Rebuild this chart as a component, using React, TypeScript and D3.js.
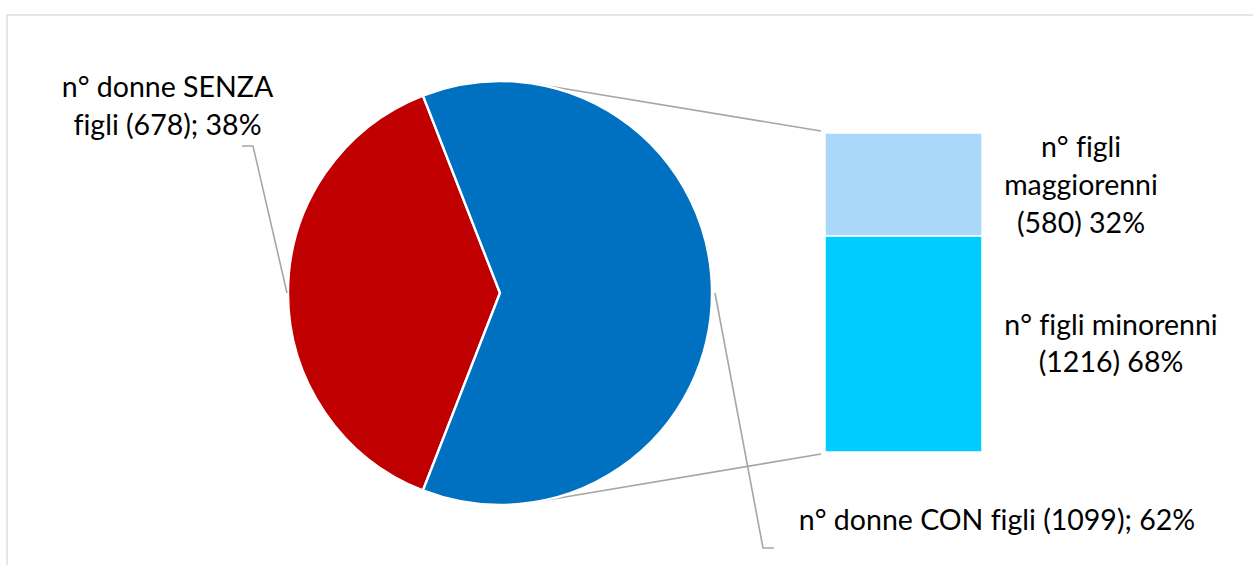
import React from "react";
import * as d3 from "d3";

const pieCategories = ["n° donne SENZA figli", "n° donne CON figli"];
const pieValues = [678, 1099];
const pieLabels = [["n° donne SENZA", "figli (678); 38%"], ["n° donne CON figli (1099); 62%"]];
const pieColors = ["#C00000", "#0070C0"];

const barCategories = ["n° figli maggiorenni", "n° figli minorenni"];
const barValues = [580, 1216];
const barLabels = [["n° figli", "maggiorenni", "(580) 32%"], ["n° figli minorenni", "(1216) 68%"]];
const barColors = ["#A9D8FB", "#00CCFF"];

const W = 1253;
const H = 565;
const FONT = "Lato, 'Noto Sans', sans-serif";
const FS = 28.5;
const LH = 38;

function tangentPoint(cx: number, cy: number, r: number, px: number, py: number, sign: number) {
  const dx = px - cx;
  const dy = py - cy;
  const d = Math.sqrt(dx * dx + dy * dy);
  const base = Math.atan2(dy, dx);
  const a = Math.acos(r / d);
  const ang = base + sign * a;
  return [cx + r * Math.cos(ang), cy + r * Math.sin(ang)];
}

export default function App() {
  const cx = 500;
  const cy = 293;
  const r = 212;

  const total = d3.sum(pieValues);
  const redFrac = pieValues[0] / total;
  const start = (3 * Math.PI) / 2 - redFrac * Math.PI;
  const pie = d3
    .pie<number>()
    .sort(null)
    .startAngle(start)
    .endAngle(start + 2 * Math.PI);
  const arcs = pie(pieValues);
  const arcGen = d3.arc<d3.PieArcDatum<number>>().innerRadius(0).outerRadius(r);

  const barTotal = d3.sum(barValues);
  const barX0 = 825;
  const barX1 = 982;
  const y = d3.scaleLinear().domain([0, barTotal]).range([133, 452]);
  const stackEnds = d3.cumsum(barValues);
  const segs = barValues.map((v, i) => ({
    y0: y(stackEnds[i] - v),
    y1: y(stackEnds[i]),
  }));

  const topEnd = [821, 131];
  const botEnd = [821, 454];
  const tTop = tangentPoint(cx, cy, r, topEnd[0], topEnd[1], -1);
  const tBot = tangentPoint(cx, cy, r, botEnd[0], botEnd[1], 1);

  const lineColor = "#A6A6A6";
  const textStyle: React.CSSProperties = { fontVariantLigatures: "none", fontFeatureSettings: '"liga" 0, "clig" 0' };

  return (
    <svg
      width={W}
      height={H}
      style={{ position: "absolute", left: 0, top: 0, background: "#fff" }}
      fontFamily={FONT}
    >
      <rect x={7} y={15} width={1300} height={600} fill="#fff" stroke="#D9D9D9" strokeWidth={1.3} />

      {/* connector lines */}
      <line x1={tTop[0]} y1={tTop[1]} x2={topEnd[0]} y2={topEnd[1]} stroke={lineColor} strokeWidth={1.6} />
      <line x1={tBot[0]} y1={tBot[1]} x2={botEnd[0]} y2={botEnd[1]} stroke={lineColor} strokeWidth={1.6} />

      {/* pie */}
      <g transform={`translate(${cx},${cy})`}>
        {arcs.map((a, i) => (
          <path key={pieCategories[i]} d={arcGen(a) || ""} fill={pieColors[i]} stroke="#fff" strokeWidth={2.4} strokeLinejoin="miter" />
        ))}
      </g>

      {/* bar */}
      {segs.map((s, i) => (
        <rect
          key={barCategories[i]}
          x={barX0}
          y={s.y0}
          width={barX1 - barX0}
          height={s.y1 - s.y0}
          fill={barColors[i]}
          stroke="#fff"
          strokeWidth={1.5}
        />
      ))}

      {/* leader lines */}
      <polyline points={`242,146 253,146 287,293`} fill="none" stroke={lineColor} strokeWidth={1.6} />
      <polyline points={`715,293 763,548 774,548`} fill="none" stroke={lineColor} strokeWidth={1.6} />

      {/* labels */}
      <text x={167.5} y={97} textAnchor="middle" fontSize={FS} fill="#000" style={textStyle}>
        {pieLabels[0].map((t, i) => (
          <tspan key={i} x={167.5} dy={i === 0 ? 0 : LH}>
            {t}
          </tspan>
        ))}
      </text>
      <text x={997} y={530} textAnchor="middle" fontSize={FS} fill="#000" style={textStyle}>
        {pieLabels[1][0]}
      </text>
      <text x={1081} y={157} textAnchor="middle" fontSize={FS} fill="#000" style={textStyle}>
        {barLabels[0].map((t, i) => (
          <tspan key={i} x={1081} dy={i === 0 ? 0 : LH}>
            {t}
          </tspan>
        ))}
      </text>
      <text x={1111} y={335} textAnchor="middle" fontSize={FS} fill="#000" style={textStyle}>
        {barLabels[1].map((t, i) => (
          <tspan key={i} x={1111} dy={i === 0 ? 0 : 37}>
            {t}
          </tspan>
        ))}
      </text>
    </svg>
  );
}
